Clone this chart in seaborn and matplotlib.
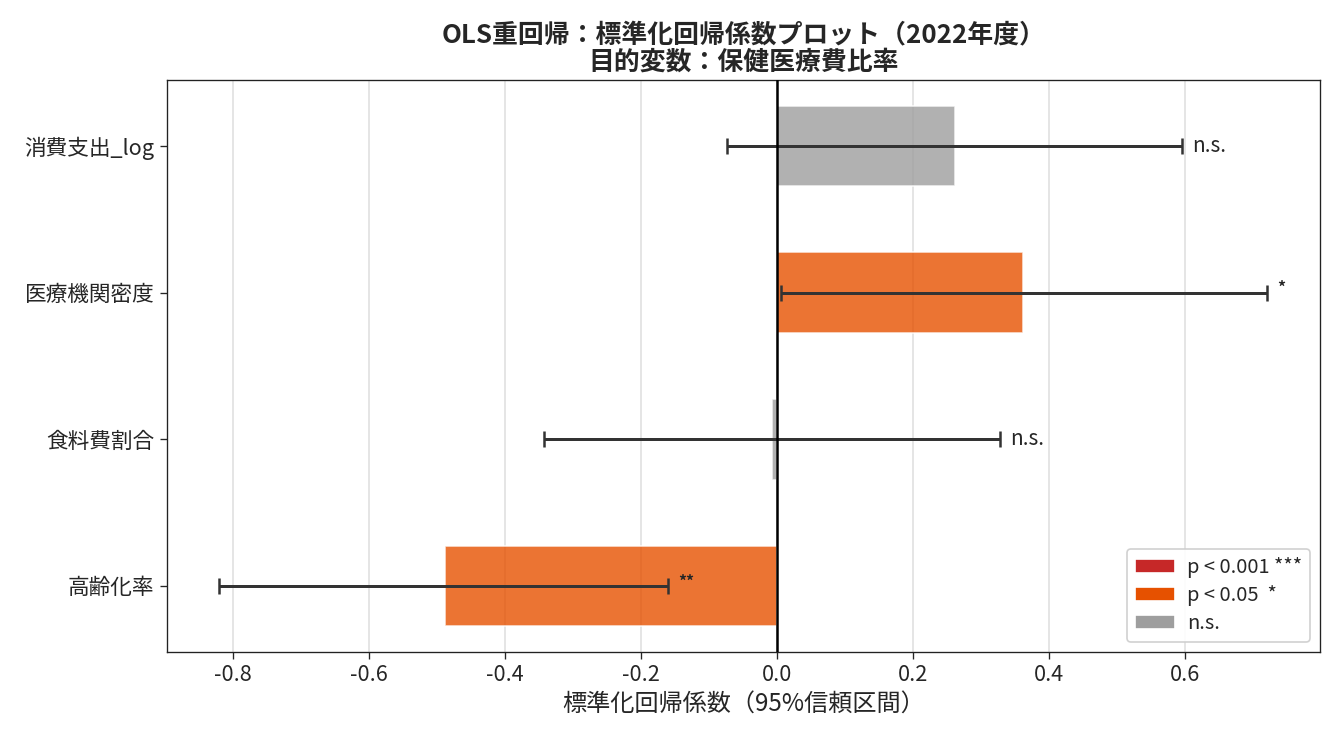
import matplotlib
matplotlib.use("Agg")
import matplotlib.pyplot as plt
import seaborn as sns
import numpy as np
import pandas as pd
from matplotlib.patches import Patch

variables = ["消費支出_log", "医療機関密度", "食料費割合", "高齢化率"]
coefs = [0.262, 0.362, -0.007, -0.488]
ci_low = [-0.073, 0.006, -0.343, -0.821]
ci_high = [0.595, 0.720, 0.328, -0.160]
sig_labels = ["n.s.", "*", "n.s.", "**"]
sig_class = ["n.s.", "p < 0.05", "n.s.", "p < 0.05"]

class_colors = {"p < 0.001": "#c62828", "p < 0.05": "#e65100", "n.s.": "#9e9e9e"}
legend_labels = ["p < 0.001 ***", "p < 0.05  *", "n.s."]

sns.set_style("white")
plt.rcParams['font.family'] = ['Noto Sans CJK JP', 'DejaVu Sans']
plt.rcParams['axes.unicode_minus'] = False

df = pd.DataFrame({"variable": variables, "coef": coefs, "cls": sig_class})

fig, ax = plt.subplots(figsize=(11.125, 6.125), dpi=120)
sns.barplot(data=df, x="coef", y="variable", hue="cls", palette=class_colors,
            order=variables, dodge=False, width=0.55, alpha=0.8, saturation=1,
            legend=False, ax=ax)

ypos = np.arange(len(variables))
coefs_a = np.array(coefs)
xerr = np.vstack([coefs_a - np.array(ci_low), np.array(ci_high) - coefs_a])
ax.errorbar(coefs_a, ypos, xerr=xerr, fmt='none', ecolor='#333333',
            elinewidth=1.8, capsize=5, capthick=1.5, zorder=5)

for y, hi, lab in zip(ypos, ci_high, sig_labels):
    if lab == "n.s.":
        ax.text(hi + 0.015, y, lab, va='center', ha='left', fontsize=12.5)
    else:
        ax.text(hi + 0.015, y - 0.03, lab, va='center', ha='left', fontsize=9.5,
                fontweight='bold')

ax.axvline(0, color='black', lw=1.5, zorder=6)
ax.set_xlim(-0.897, 0.799)
ax.set_ylim(3.45, -0.45)
ax.grid(axis='x', color='#e0e0e0', lw=1)
ax.set_axisbelow(True)
for s in ax.spines.values():
    s.set_color('#222222')
ax.tick_params(axis='both', labelsize=13, length=4, left=True, bottom=True)
ax.set_ylabel("")
ax.set_xlabel("標準化回帰係数（95%信頼区間）", fontsize=14.5, labelpad=3)
ax.set_title("OLS重回帰：標準化回帰係数プロット（2022年度）\n目的変数：保健医療費比率",
             fontsize=15.5, fontweight='bold', linespacing=1.05, pad=6)

handles = [Patch(facecolor=class_colors[k], label=l)
           for k, l in zip(["p < 0.001", "p < 0.05", "n.s."], legend_labels)]
ax.legend(handles=handles, loc='lower right', fontsize=12, framealpha=0.9,
          handletextpad=0.6, labelspacing=0.35)

fig.subplots_adjust(left=0.125, right=0.989, top=0.891, bottom=0.113)
fig.savefig("out.png", dpi=120)
